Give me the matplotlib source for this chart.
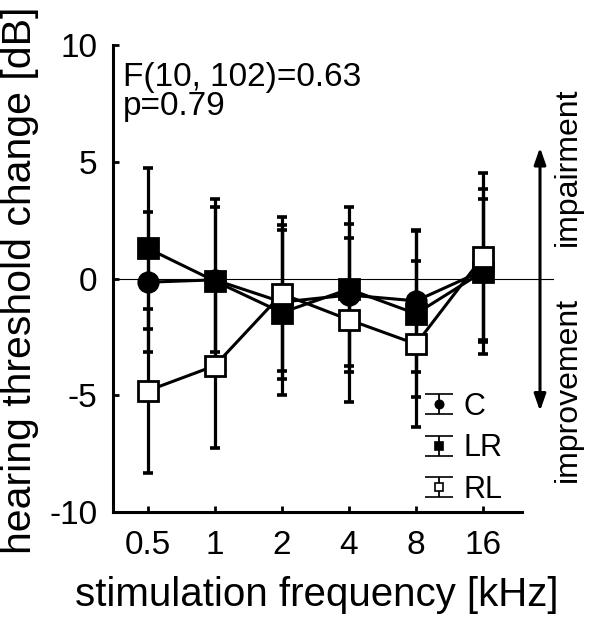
import numpy as np
import matplotlib.pyplot as plt
from matplotlib.container import ErrorbarContainer
from matplotlib.legend_handler import HandlerErrorbar
import matplotlib.transforms as mtransforms

plt.rcParams['font.family'] = ['Liberation Sans', 'DejaVu Sans']
plt.rcParams['axes.unicode_minus'] = False

# data (hearing threshold change, dB)
freq_labels = ['0.5', '1', '2', '4', '8', '16']
c_mean = [-0.15, -0.05, -1.0, -0.7, -0.95, 0.35]
c_err = [3.0, 3.1, 3.3, 3.05, 3.05, 3.05]
lr_mean = [1.3, -0.1, -1.45, -0.45, -1.5, 0.3]
lr_err = [3.46, 3.5, 3.55, 3.53, 3.56, 3.53]
rl_mean = [-4.8, -3.73, -0.65, -1.76, -2.8, 0.95]
rl_err = [3.52, 3.52, 3.3, 3.52, 3.54, 3.58]
stat_text = 'F(10, 102)=0.63\np=0.79'

x = np.arange(len(freq_labels))

fig = plt.figure(figsize=(6, 6.2), dpi=100)
ax = fig.add_axes([0.188, 0.174, 0.682, 0.753])

series = [
    ('C', c_mean, c_err, 'o', 'black'),
    ('LR', lr_mean, lr_err, 's', 'black'),
    ('RL', rl_mean, rl_err, 's', 'white'),
]

# error bars below everything else
for name, m, e, mk, fc in series:
    ax.errorbar(x, m, yerr=e, fmt='none', ecolor='black', elinewidth=2.3,
                capsize=3.8, capthick=2.6, zorder=2)

for name, m, e, mk, fc in series:
    ax.plot(x, m, color='black', lw=2.2, marker=mk,
            ms=14 if mk == 'o' else 14.5, mfc=fc, mec='black', mew=2.0, zorder=3)

# zero line reaching out to the arrow
ax.axhline(0, xmin=0, xmax=1.076, color='black', lw=0.8, clip_on=False, zorder=1)

ax.set_xlim(-0.52, 5.58)
ax.set_ylim(-10, 10)
ax.set_xticks(x)
ax.set_xticklabels(freq_labels)
ax.set_yticks([-10, -5, 0, 5, 10])
ax.spines['top'].set_visible(False)
ax.spines['right'].set_visible(False)
ax.spines['left'].set_linewidth(2.2)
ax.spines['bottom'].set_linewidth(2.2)
ax.tick_params(axis='both', direction='in', length=4, width=2, labelsize=24)
ax.tick_params(axis='x', pad=13)
ax.tick_params(axis='y', pad=11)

ax.text(0.025, 0.965, stat_text, transform=ax.transAxes, fontsize=24,
        ha='left', va='top', linespacing=0.95)

# impairment / improvement arrow on the right
trans = mtransforms.blended_transform_factory(ax.transAxes, ax.transData)
ax.annotate('', xy=(1.044, 5.62), xytext=(1.044, -5.67), xycoords=trans, textcoords=trans,
            arrowprops=dict(arrowstyle='<|-|>,head_length=1.0,head_width=0.35',
                            color='black', lw=2.2, shrinkA=0, shrinkB=0),
            annotation_clip=False)
ax.text(1.112, 1.4, 'impairment', transform=trans, rotation=90, fontsize=23,
        ha='center', va='bottom', clip_on=False)
ax.text(1.112, -0.8, 'improvement', transform=trans, rotation=90, fontsize=23,
        ha='center', va='top', clip_on=False)

fig.text(0.033, 0.548, 'hearing threshold change [dB]', rotation=90, fontsize=29.5,
         ha='center', va='center')
fig.text(0.528, 0.022, 'stimulation frequency [kHz]', fontsize=29,
         ha='center', va='baseline')

# legend with small error bar symbols (nan data, only used as legend proxies)
handles = []
for name, m, e, mk, fc in series:
    h = ax.errorbar([np.nan], [np.nan], yerr=[1.0], fmt=mk, color='black', ms=6, mfc=fc,
                    mec='black', mew=1.2, elinewidth=1.3, capsize=10, capthick=1.3,
                    label=name)
    handles.append(h)
ax.legend(handles=handles, loc='upper left', bbox_to_anchor=(0.706, 0.368),
          bbox_transform=fig.transFigure, frameon=False, fontsize=22,
          handlelength=1.0, handletextpad=0.3, labelspacing=0.38,
          borderpad=0, borderaxespad=0,
          handler_map={ErrorbarContainer: HandlerErrorbar(xerr_size=0.35, yerr_size=0.33)})

fig.savefig('out.png', dpi=100)
